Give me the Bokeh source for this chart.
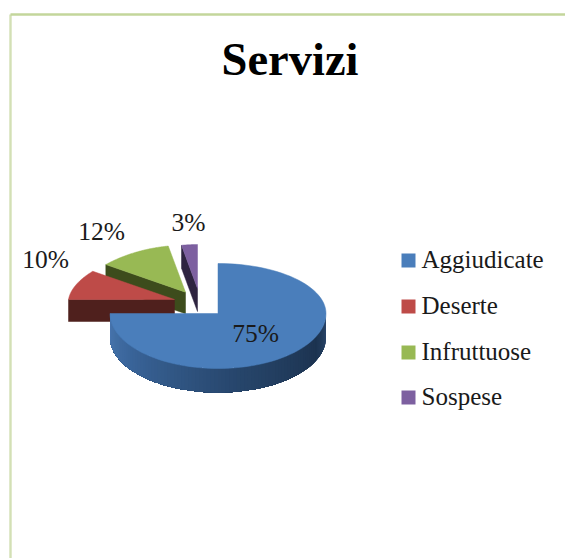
import math
from bokeh.plotting import figure
from bokeh.embed import file_html
from bokeh.resources import INLINE
from bokeh.core.properties import value

title_text = "Servizi"
categories = ["Aggiudicate", "Deserte", "Infruttuose", "Sospese"]
shares = [75, 10, 12, 3]
colors = ["#4a7ebb", "#be4b48", "#98b954", "#7d60a0"]
walls = ["#1f3a5c", "#4f201d", "#3d4c1c", "#2e2440"]

FONT = value("Liberation Serif")
p = figure(width=565, height=558, x_range=(0, 565), y_range=(558, 0),
           output_backend="svg", toolbar_location=None, min_border=0,
           outline_line_color=None, background_fill_color="white")
p.axis.visible = False
p.grid.visible = False

# frame
p.line([10, 10], [558, 14], line_color="#d3e0b5", line_width=2.4)
p.line([10, 565], [14, 14], line_color="#c3d69b", line_width=2.4)

# slice geometry: centre x, centre y, a, b up, b down, k, depth
geo = {
    0: (217.5, 313, 108, 50, 55, 0.0, 24),
    1: (174, 299, 106, 48, 48, 0.08, 22),
    2: (185, 291.7, 108, 47, 47, 0.15, 21.5),
    3: (197, 288, 100, 44, 44, 0.15, 23),
}

def pt(i, deg, drop=0):
    cx, cy, a, bu, bd, k, d = geo[i]
    t = math.radians(deg)
    c = math.cos(t)
    return cx + a * math.sin(t) * (1 - k * c), cy - (bu if c > 0 else bd) * c + drop

total = sum(shares)
starts, ends = [], []
acc = 0
for s in shares:
    starts.append(acc / total * 360)
    acc += s
    ends.append(acc / total * 360)

def sector(i):
    n = 90
    pts = [pt(i, starts[i] + (ends[i] - starts[i]) * j / n) for j in range(n + 1)]
    cx, cy = geo[i][:2]
    return [q[0] for q in pts] + [cx], [q[1] for q in pts] + [cy]

def mix(c1, c2, f):
    a = [int(c1[j:j + 2], 16) for j in (1, 3, 5)]
    b = [int(c2[j:j + 2], 16) for j in (1, 3, 5)]
    return "#%02x%02x%02x" % tuple(round(a[j] + (b[j] - a[j]) * f) for j in range(3))

# back slices drawn first: purple, green, red
for i in (3, 2, 1):
    cx, cy, *_ , d = geo[i]
    ex, ey = pt(i, starts[i])
    p.patch([ex, cx, cx, ex], [ey, cy, cy + d, ey + d], fill_color=walls[i], line_color=walls[i], line_width=0.5)
    xs, ys = sector(i)
    p.patch(xs, ys, fill_color=colors[i], line_color=colors[i], line_width=0.5)

# blue side wall, shaded strips along the lower half (painted overlapping, so no seams)
stops = [(90, "#2c4a70"), (115, "#1c3350"), (170, "#27466c"), (235, "#3a659a"), (270, "#4a78b0")]
sx, sy, sc = [], [], []
step = 2
for deg in range(90, 270, step):
    arc = [pt(0, deg + j * 2, geo[0][6]) for j in range((270 - deg) // 2 + 1)]
    top = [pt(0, deg + j * 2) for j in range((270 - deg) // 2 + 1)]
    sx.append([q[0] for q in top] + [q[0] for q in reversed(arc)])
    sy.append([q[1] for q in top] + [q[1] for q in reversed(arc)])
    m = deg + step / 2
    for (a0, c0), (a1, c1) in zip(stops, stops[1:]):
        if a0 <= m <= a1:
            sc.append(mix(c0, c1, (m - a0) / (a1 - a0)))
            break
p.patches(sx, sy, fill_color=sc, line_color=None)
xs, ys = sector(0)
p.patch(xs, ys, fill_color=colors[0], line_color=colors[0], line_width=0.5)

# title
p.text([289.5], [59], text=[title_text], text_font=FONT, text_font_style="bold",
       text_font_size="46.5px", text_align="center", text_baseline="middle", text_color="#000000")

# data labels
label_x = [255, 45, 101, 188]
label_y = [333, 259, 231, 222]
p.text(label_x, label_y, text=[f"{s}%" for s in shares], text_font=FONT, text_font_size="25.5px",
       text_align="center", text_baseline="middle", text_color="#1a1a1a")

# legend
leg_y = [260, 306, 352, 397]
text_y = [259, 305, 351, 396]
p.rect([408] * 4, leg_y, width=14, height=14, fill_color=colors, line_color=None)
p.text([421] * 4, text_y, text=categories, text_font=FONT, text_font_size="25px",
       text_align="left", text_baseline="middle", text_color="#1a1a1a")

open("out.html", "w").write(file_html(p, INLINE))
